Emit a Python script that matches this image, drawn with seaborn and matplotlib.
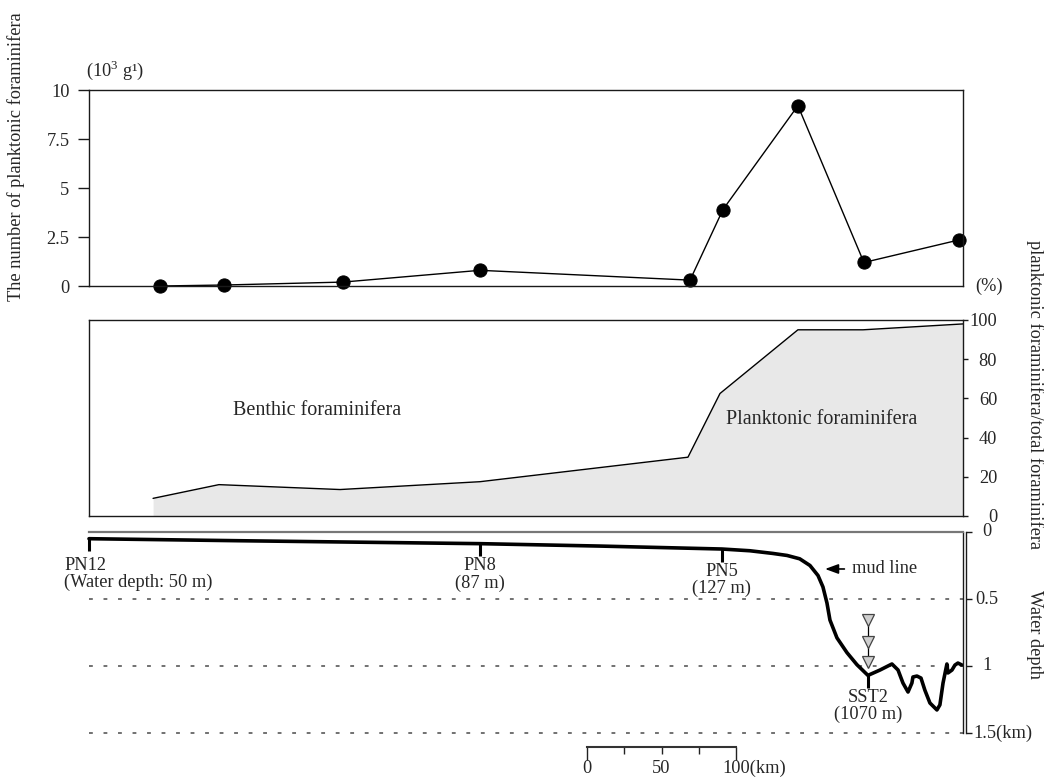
import matplotlib
matplotlib.use("Agg")
import matplotlib.pyplot as plt
import numpy as np
import pandas as pd
import seaborn as sns

# ---- data -------------------------------------------------------------
# distance along the transect is in km, measured from station PN12

# number of planktonic foraminifera (10^3 per gram)
abund_km = [47.7, 90.6, 170.5, 262.4, 403.4, 425.5, 475.8, 520.1, 583.9]
abund_val = [0.0, 0.05, 0.2, 0.8, 0.3, 3.9, 9.2, 1.2, 2.35]

# planktonic / total foraminifera (%)
ratio_km = [43.0, 87.2, 168.5, 262.4, 402.0, 423.5, 475.8, 519.5, 586.6]
ratio_pct = [9, 16, 13.5, 17.5, 30, 62.5, 95, 95, 98]

# sea-floor profile (water depth, km)
profile_km = [0, 100, 262.4, 343, 424.8, 443.6, 459, 468.5, 477, 483.9,
              489.3, 492.6, 495.3, 497.3, 502, 508.7, 515.4, 522.8, 530.9,
              538.9, 543, 546.3, 549.7, 552.3, 553, 555.7, 558.4, 561,
              564.4, 569.1, 571.1, 573.2, 575.8, 576.5, 579.2, 581.2,
              583.2, 585.9]
profile_depth = [0.05, 0.065, 0.087, 0.105, 0.127, 0.14, 0.16, 0.175, 0.2,
                 0.25, 0.325, 0.41, 0.53, 0.657, 0.79, 0.9, 0.99, 1.07,
                 1.03, 0.985, 1.03, 1.127, 1.194, 1.127, 1.082, 1.075, 1.09,
                 1.18, 1.276, 1.328, 1.29, 1.127, 0.985, 1.052, 1.03, 0.993,
                 0.978, 0.993]

# sampling stations
station_names = ["PN12", "PN8", "PN5", "SST2"]
station_km = [0, 262.4, 424.8, 522.8]
station_depth_m = [50, 87, 127, 1070]

# sediment trap depths on the SST2 mooring (km)
trap_depth = [0.66, 0.82, 0.97]

# axis ticks
abund_ticks = [0, 2.5, 5, 7.5, 10]
abund_tick_labels = ["0", "2.5", "5", "7.5", "10"]
pct_ticks = [0, 20, 40, 60, 80, 100]
depth_ticks = [0, 0.5, 1, 1.5]
depth_tick_labels = ["0", "0.5", "1", "1.5(km)"]
depth_grid = [0.5, 1.0, 1.5]
scale_ticks = [0, 25, 50, 75, 100]
scale_labels = ["0", "", "50", "", "100(km)"]

X_MAX = 586.6

# ---- style ------------------------------------------------------------
sns.set_theme(style="white")
plt.rcParams["font.family"] = ["Liberation Serif", "DejaVu Serif"]
plt.rcParams["mathtext.fontset"] = "custom"
plt.rcParams["mathtext.rm"] = "Liberation Serif"
plt.rcParams["font.size"] = 13
FS = 13.2
INK = "#1a1a1a"

fig = plt.figure(figsize=(10.44, 7.77), dpi=100)
W, H = 1044, 777


def box(left, top, right, bottom):
    return [left / W, 1 - bottom / H, (right - left) / W, (bottom - top) / H]


ax1 = fig.add_axes(box(89, 90, 963, 286))
ax2 = fig.add_axes(box(89, 320, 963, 516))
ax3 = fig.add_axes(box(89, 532, 963, 733))

# ---- top: abundance ----------------------------------------------------
df_ab = pd.DataFrame({"km": abund_km, "n": abund_val})
sns.lineplot(data=df_ab, x="km", y="n", ax=ax1, color="black", lw=1.0,
             marker="o", markersize=9.5, markeredgecolor="black", clip_on=False)
ax1.set_xlim(0, X_MAX)
ax1.set_ylim(0, 10)
ax1.set_yticks(abund_ticks, labels=abund_tick_labels)
ax1.set_xticks([])
ax1.tick_params(axis="y", left=True, direction="out", length=8, width=1,
                color=INK, pad=6, labelsize=FS)
for s in ax1.spines.values():
    s.set_color(INK)
    s.set_linewidth(1.0)
ax1.set_xlabel("")
ax1.set_ylabel("")

# ---- middle: planktonic ratio ------------------------------------------
df_ra = pd.DataFrame({"km": ratio_km, "pct": ratio_pct})
ax2.fill_between(df_ra["km"], df_ra["pct"], 0, color="#e8e8e8", lw=0)
sns.lineplot(data=df_ra, x="km", y="pct", ax=ax2, color="black", lw=1.0)
ax2.set_xlim(0, X_MAX)
ax2.set_ylim(0, 100)
ax2.set_xticks([])
ax2.yaxis.tick_right()
ax2.set_yticks(pct_ticks, labels=[str(v) for v in pct_ticks], ha="right")
ax2.tick_params(axis="y", right=True, left=False, direction="out", length=3.6,
                width=1, color=INK, pad=21, labelsize=FS)
for s in ax2.spines.values():
    s.set_color(INK)
    s.set_linewidth(1.0)
ax2.set_xlabel("")
ax2.set_ylabel("")
ax2.text(153, 54, "Benthic foraminifera", ha="center", va="center", fontsize=14.5)
ax2.text(492, 49, "Planktonic foraminifera", ha="center", va="center", fontsize=14.5)

# ---- bottom: bathymetry -------------------------------------------------
ax3.set_xlim(0, X_MAX)
ax3.set_ylim(1.5, 0)
for d in depth_grid:
    ax3.axhline(d, color="#4a4a4a", lw=1.1, ls=(0, (2.5, 7)), clip_on=False)
df_pr = pd.DataFrame({"km": profile_km, "depth": profile_depth})
sns.lineplot(data=df_pr, x="km", y="depth", ax=ax3, color="black", lw=2.6,
             clip_on=False)

tick_len = 0.095
for name, km, dm in zip(station_names, station_km, station_depth_m):
    d = dm / 1000
    ax3.plot([km, km], [d, d + tick_len], color="black", lw=2.2,
             solid_capstyle="butt", clip_on=False)
    if name == "PN12":
        txt = f"{name}\n(Water depth: {dm} m)"
        ax3.text(km - 16.8, d + tick_len + 0.04, txt, ha="left", va="top",
                 fontsize=FS, linespacing=1.0)
    else:
        txt = f"{name}\n({dm} m)"
        ax3.text(km, d + tick_len + 0.008, txt, ha="center", va="top",
                 fontsize=FS, linespacing=1.0)

# sediment trap mooring above SST2
sst_km = station_km[station_names.index("SST2")]
ax3.plot([sst_km] * len(trap_depth), trap_depth, color="black", lw=0.9)
ax3.plot([sst_km] * len(trap_depth), trap_depth, ls="none", marker="v",
         markersize=8, markerfacecolor="#cfcfcf", markeredgecolor="#444444",
         markeredgewidth=0.9)

ax3.annotate("mud line", xy=(494, 0.276), xytext=(512, 0.276),
             ha="left", va="center", fontsize=FS,
             arrowprops=dict(arrowstyle="-|>,head_length=0.6,head_width=0.22",
                             color="black", lw=1.2, shrinkA=3, shrinkB=0))

ax3.set_xticks([])
ax3.set_yticks([])
ax3.set_xlabel("")
ax3.set_ylabel("")
ax3.spines["left"].set_visible(False)
ax3.spines["bottom"].set_visible(False)
ax3.spines["top"].set_color("#777777")
ax3.spines["top"].set_linewidth(1.6)
ax3.spines["right"].set_color(INK)
ax3.spines["right"].set_linewidth(1.0)

# outer line of the double depth axis, carrying the ticks
ax3b = ax3.twinx()
ax3b.set_ylim(1.5, 0)
for k in ["left", "top", "bottom"]:
    ax3b.spines[k].set_visible(False)
ax3b.spines["right"].set_position(("outward", 2.2))
ax3b.spines["right"].set_color(INK)
ax3b.spines["right"].set_linewidth(1.0)
ax3b.set_yticks(depth_ticks, labels=[""] * len(depth_ticks))
ax3b.tick_params(axis="y", right=True, direction="out", length=4, width=1,
                 color=INK)
ytr = ax3.get_yaxis_transform()
for v, lab in zip(depth_ticks, depth_tick_labels):
    if lab.endswith("(km)"):
        ax3.annotate(lab, xy=(1, v), xycoords=ytr, xytext=(7.3, 0),
                     textcoords="offset points", ha="left", va="center",
                     fontsize=FS)
    else:
        ax3.annotate(lab, xy=(1, v), xycoords=ytr, xytext=(17.3, 0),
                     textcoords="offset points", ha="center", va="center",
                     fontsize=FS)

# ---- scale bar ----------------------------------------------------------
axs = fig.add_axes(box(587, 740, 736, 747))
axs.set_xlim(0, 100)
axs.set_ylim(0, 1)
for k in ["left", "top", "right"]:
    axs.spines[k].set_visible(False)
axs.spines["bottom"].set_color("#333333")
axs.spines["bottom"].set_linewidth(1.5)
axs.patch.set_alpha(0)
axs.set_yticks([])
axs.set_xticks(scale_ticks, labels=[""] * len(scale_ticks))
axs.tick_params(axis="x", bottom=True, direction="out", length=5, width=1,
                color="#222222")
xt = axs.xaxis.get_major_ticks()
xt[0].tick1line.set_markersize(9)
xt[-1].tick1line.set_markersize(9)
for v, lab in zip(scale_ticks, scale_labels):
    if not lab:
        continue
    if lab.endswith("(km)"):
        axs.annotate(lab, xy=(v, 0), xycoords=("data", "axes fraction"),
                     xytext=(-9.8, -18.5), textcoords="offset points",
                     ha="left", va="baseline", fontsize=FS)
    else:
        axs.annotate(lab, xy=(v, 0), xycoords=("data", "axes fraction"),
                     xytext=(0, -18.5), textcoords="offset points",
                     ha="center", va="baseline", fontsize=FS)

# ---- figure-level labels ---------------------------------------------
fig.text(16 / W, 1 - 157 / H, "The number of planktonic foraminifera",
         rotation=90, ha="center", va="center", fontsize=FS)
fig.text(86 / W, 1 - 70 / H, r"(10$^3$ g¹)", ha="left", va="center", fontsize=FS)
fig.text(975 / W, 1 - 286 / H, "(%)", ha="left", va="center", fontsize=FS)
fig.text(1035 / W, 1 - 395 / H, "planktonic foraminifera/total foraminifera",
         rotation=270, ha="center", va="center", fontsize=FS)
fig.text(1035 / W, 1 - 634 / H, "Water depth", rotation=270, ha="center",
         va="center", fontsize=FS)

fig.savefig("out.png", dpi=100, facecolor="white")
